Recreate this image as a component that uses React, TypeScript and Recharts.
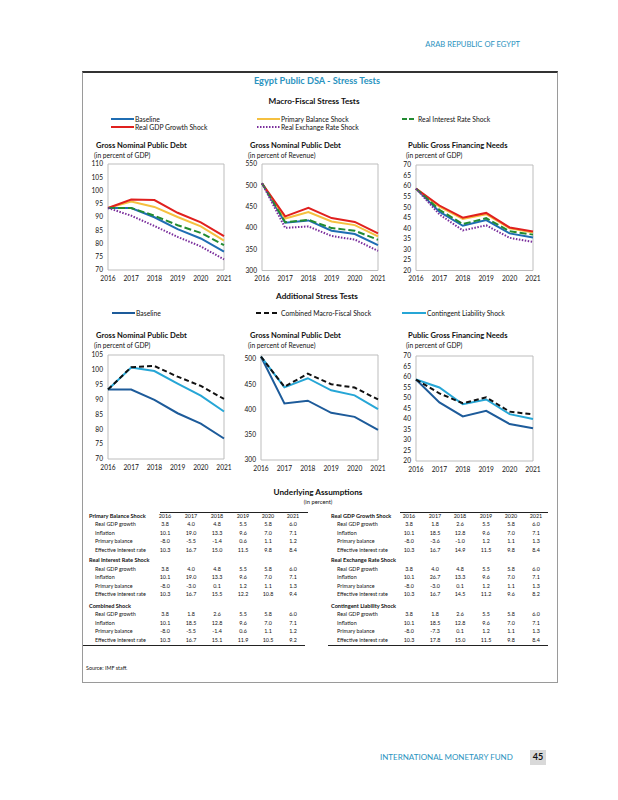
import React from "react";
import { LineChart, Line, XAxis, YAxis, ReferenceArea } from "recharts";

const FONT = "Lato, 'Noto Sans', sans-serif";
const TEAL = "#2a93c0";

// years shared by every panel and table
const years = [2016, 2017, 2018, 2019, 2020, 2021];

// Macro-fiscal stress tests: gross debt, % of GDP
const gdpBaseline = [93.4, 93.4, 89.9, 85.4, 81.9, 76.9];
const gdpPrimary = [93.4, 95.8, 93.8, 90.0, 86.5, 81.1];
const gdpGrowth = [93.4, 96.6, 96.4, 91.6, 88.0, 82.8];
const gdpInterest = [93.4, 93.4, 90.5, 86.9, 84.0, 79.4];
const gdpExchange = [93.4, 90.5, 86.6, 82.5, 78.9, 74.0];

// gross debt, % of revenue
const revBaseline = [504.6, 412.0, 417.5, 393.5, 385.5, 359.5];
const revPrimary = [504.6, 422.0, 437.0, 415.0, 406.5, 380.0];
const revGrowth = [504.6, 427.0, 447.0, 423.0, 414.0, 387.0];
const revInterest = [504.6, 413.5, 419.0, 399.5, 393.5, 372.0];
const revExchange = [504.6, 400.0, 403.5, 381.0, 372.5, 346.0];

// gross financing needs, % of GDP
const gfnBaseline = [58.8, 47.9, 41.2, 43.9, 37.6, 35.6];
const gfnPrimary = [58.8, 50.2, 44.4, 46.7, 40.0, 38.0];
const gfnGrowth = [58.8, 50.8, 45.0, 47.3, 40.4, 38.5];
const gfnInterest = [58.8, 48.8, 42.0, 44.8, 38.6, 37.0];
const gfnExchange = [58.8, 46.6, 39.0, 41.4, 35.5, 33.5];

// Additional stress tests
const gdpCombined = [93.4, 100.9, 101.3, 97.7, 94.6, 90.2];
const gdpContingent = [93.4, 100.8, 99.6, 95.4, 91.3, 86.0];
const revCombined = [504.6, 445.0, 471.0, 450.0, 443.5, 420.0];
const revContingent = [504.6, 444.0, 462.0, 438.0, 428.0, 401.0];
const gfnCombined = [58.8, 52.2, 47.5, 50.3, 43.5, 42.2];
const gfnContingent = [58.8, 55.0, 47.0, 49.3, 42.3, 40.0];

// axis ticks
const gdpTicks = [70, 75, 80, 85, 90, 95, 100, 105, 110];
const revTicks = [300, 350, 400, 450, 500, 550];
const gfnTicks = [20, 25, 30, 35, 40, 45, 50, 55, 60, 65, 70];
const gdpTicks2 = [70, 75, 80, 85, 90, 95, 100, 105];
const revTicks2 = [300, 350, 400, 450, 500];

// table: underlying assumptions
const rowLabels = ["Real GDP growth", "Inflation", "Primary balance", "Effective interest rate"];
const primaryRows = [
  ["3.8", "4.0", "4.8", "5.5", "5.8", "6.0"],
  ["10.1", "19.0", "13.3", "9.6", "7.0", "7.1"],
  ["-8.0", "-5.5", "-1.4", "0.6", "1.1", "1.2"],
  ["10.3", "16.7", "15.0", "11.5", "9.8", "8.4"],
];
const interestRows = [
  ["3.8", "4.0", "4.8", "5.5", "5.8", "6.0"],
  ["10.1", "19.0", "13.3", "9.6", "7.0", "7.1"],
  ["-8.0", "-3.0", "0.1", "1.2", "1.1", "1.3"],
  ["10.3", "16.7", "15.5", "12.2", "10.8", "9.4"],
];
const combinedRows = [
  ["3.8", "1.8", "2.6", "5.5", "5.8", "6.0"],
  ["10.1", "18.5", "12.8", "9.6", "7.0", "7.1"],
  ["-8.0", "-5.5", "-1.4", "0.6", "1.1", "1.2"],
  ["10.3", "16.7", "15.1", "11.9", "10.5", "9.2"],
];
const growthRows = [
  ["3.8", "1.8", "2.6", "5.5", "5.8", "6.0"],
  ["10.1", "18.5", "12.8", "9.6", "7.0", "7.1"],
  ["-8.0", "-3.6", "-1.0", "1.2", "1.1", "1.3"],
  ["10.3", "16.7", "14.9", "11.5", "9.8", "8.4"],
];
const exchangeRows = [
  ["3.8", "4.0", "4.8", "5.5", "5.8", "6.0"],
  ["10.1", "26.7", "13.3", "9.6", "7.0", "7.1"],
  ["-8.0", "-3.0", "0.1", "1.2", "1.1", "1.3"],
  ["10.3", "16.7", "14.5", "11.2", "9.6", "8.2"],
];
const contingentRows = [
  ["3.8", "1.8", "2.6", "5.5", "5.8", "6.0"],
  ["10.1", "18.5", "12.8", "9.6", "7.0", "7.1"],
  ["-8.0", "-7.3", "0.1", "1.2", "1.1", "1.3"],
  ["10.3", "17.8", "15.0", "11.5", "9.8", "8.4"],
];

const C = {
  baseline: "#1f6db3",
  baseline2: "#1d5b9a",
  primary: "#f5c040",
  growth: "#e0201e",
  interest: "#228b32",
  exchange: "#7a2e9c",
  combined: "#111111",
  contingent: "#26a6d6",
};

type S = { key: string; color: string; dash?: string };

const macroSeries: S[] = [
  { key: "baseline", color: C.baseline },
  { key: "primary", color: C.primary },
  { key: "growth", color: C.growth },
  { key: "interest", color: C.interest, dash: "7 3" },
  { key: "exchange", color: C.exchange, dash: "1.5 1.5" },
];
const addSeries: S[] = [
  { key: "baseline", color: C.baseline2 },
  { key: "contingent", color: C.contingent },
  { key: "combined", color: C.combined, dash: "5 3" },
];

const build = (cols: Record<string, number[]>) =>
  years.map((year, i) => {
    const row: Record<string, number> = { year };
    Object.keys(cols).forEach((k) => (row[k] = cols[k][i]));
    return row;
  });

const tickStyle = { fontSize: 6.6, fill: "#111", fontFamily: FONT };

function Panel({ data, series, box, domain, ticks }: any) {
  const yw = 30, xh = 18, mt = 8, mr = 8;
  const width = box.r - box.l + yw + mr;
  const height = box.b - box.t + mt + xh;
  return (
    <div style={{ position: "absolute", left: box.l - yw, top: box.t - mt }}>
      <LineChart width={width} height={height} data={data} margin={{ top: mt, right: mr, left: 0, bottom: 0 }}>
        <XAxis dataKey="year" type="number" domain={[2016, 2021]} ticks={years} interval={0}
          axisLine={false} tickLine={false} tickSize={0} tickMargin={6} height={xh} tick={tickStyle} />
        <YAxis type="number" domain={domain} ticks={ticks} interval={0} width={yw}
          axisLine={false} tickLine={false} tickSize={0} tickMargin={5} tick={tickStyle} />
        <ReferenceArea x1={2016} x2={2021} y1={domain[0]} y2={domain[1]} fill="none" stroke="#bdbdbd" strokeWidth={1} fillOpacity={0} />
        {series.map((s: S) => (
          <Line key={s.key} dataKey={s.key} type="linear" stroke={s.color} strokeWidth={2}
            strokeDasharray={s.dash} dot={false} isAnimationActive={false} />
        ))}
      </LineChart>
    </div>
  );
}

function T({ x, y, fs, bold, color, anchor, children }: any) {
  const tr = anchor === "middle" ? "translateX(-50%)" : anchor === "end" ? "translateX(-100%)" : undefined;
  return (
    <div style={{ position: "absolute", left: x, top: y - fs * 0.6, fontSize: fs, lineHeight: `${fs * 1.2}px`,
      fontWeight: bold ? 700 : 400, color: color || "#111", whiteSpace: "nowrap", transform: tr, fontFamily: FONT }}>
      {children}
    </div>
  );
}

function Key({ x, y, w, color, dash, label }: any) {
  return (
    <>
      <svg style={{ position: "absolute", left: x, top: y - 3 }} width={w} height={6}>
        <line x1={0} x2={w} y1={3} y2={3} stroke={color} strokeWidth={2} strokeDasharray={dash} />
      </svg>
      {label ? <T x={x + w + 1} y={y} fs={6.8}>{label}</T> : null}
    </>
  );
}

function PanelTitles({ x, y, title, sub }: any) {
  return (
    <>
      <T x={x} y={y} fs={7.6} bold>{title}</T>
      <T x={x - 2} y={y + 8.8} fs={6.7}>{sub}</T>
    </>
  );
}

function Table({ sections, titleX, labelX, cols, lineTop, lineBottom }: any) {
  const heads = [516, 560.7, 606];
  return (
    <>
      <div style={{ position: "absolute", left: lineTop[0], top: 511.5, width: lineTop[1] - lineTop[0], borderTop: "1px solid #222" }} />
      {cols.map((c: number, i: number) => (
        <T key={"h" + i} x={c} y={516} fs={5.4} anchor="middle">{years[i]}</T>
      ))}
      {sections.map((sec: any, si: number) => (
        <React.Fragment key={si}>
          <T x={titleX} y={heads[si]} fs={5.6} bold>{sec.title}</T>
          {sec.rows.map((r: string[], ri: number) => (
            <React.Fragment key={ri}>
              <T x={labelX} y={heads[si] + 8.5 * (ri + 1)} fs={5.4}>{rowLabels[ri]}</T>
              {r.map((v, ci) => (
                <T key={ci} x={cols[ci]} y={heads[si] + 8.5 * (ri + 1)} fs={5.4} anchor="middle">{v}</T>
              ))}
            </React.Fragment>
          ))}
        </React.Fragment>
      ))}
      <div style={{ position: "absolute", left: lineBottom[0], top: 645, width: lineBottom[1] - lineBottom[0], borderTop: "1.5px solid #222" }} />
    </>
  );
}

export default function App() {
  const d1 = build({ baseline: gdpBaseline, primary: gdpPrimary, growth: gdpGrowth, interest: gdpInterest, exchange: gdpExchange });
  const d2 = build({ baseline: revBaseline, primary: revPrimary, growth: revGrowth, interest: revInterest, exchange: revExchange });
  const d3 = build({ baseline: gfnBaseline, primary: gfnPrimary, growth: gfnGrowth, interest: gfnInterest, exchange: gfnExchange });
  const d4 = build({ baseline: gdpBaseline, combined: gdpCombined, contingent: gdpContingent });
  const d5 = build({ baseline: revBaseline, combined: revCombined, contingent: revContingent });
  const d6 = build({ baseline: gfnBaseline, combined: gfnCombined, contingent: gfnContingent });

  return (
    <div style={{ position: "absolute", left: 0, top: 0, width: 618, height: 800, background: "#fff", fontFamily: FONT, overflow: "hidden" }}>
      <T x={520} y={45} fs={7.6} color={TEAL} anchor="end">ARAB REPUBLIC OF EGYPT</T>

      {/* frame */}
      <div style={{ position: "absolute", left: 82, top: 71, width: 474, height: 609, border: "1px solid #9a9a9a", borderTop: "2px solid #333" }} />

      <T x={317} y={81} fs={9.2} bold color={TEAL} anchor="middle">Egypt Public DSA - Stress Tests</T>
      <T x={314} y={101.5} fs={8.2} bold anchor="middle">Macro-Fiscal Stress Tests</T>

      <Key x={111} y={119} w={23} color={C.baseline} label="Baseline" />
      <Key x={111} y={127} w={23} color={C.growth} label="Real GDP Growth Shock" />
      <Key x={257} y={119} w={23} color={C.primary} label="Primary Balance Shock" />
      <Key x={257} y={127} w={23} color={C.exchange} dash="1.5 1.5" label="Real Exchange Rate Shock" />
      <Key x={402} y={119} w={12} color={C.interest} dash="5 2" />
      <T x={418} y={119} fs={6.8}>Real Interest Rate Shock</T>

      <PanelTitles x={96} y={146} title="Gross Nominal Public Debt" sub="(in percent of GDP)" />
      <PanelTitles x={250} y={146} title="Gross Nominal Public Debt" sub="(in percent of Revenue)" />
      <PanelTitles x={408} y={146} title="Public Gross Financing Needs" sub="(in percent of GDP)" />

      <Panel data={d1} series={macroSeries} box={{ l: 108, r: 224, t: 164, b: 270 }} domain={[70, 110]} ticks={gdpTicks} />
      <Panel data={d2} series={macroSeries} box={{ l: 262, r: 378, t: 164, b: 270.5 }} domain={[300, 550]} ticks={revTicks} />
      <Panel data={d3} series={macroSeries} box={{ l: 416, r: 533, t: 165, b: 270.5 }} domain={[20, 70]} ticks={gfnTicks} />

      <T x={317} y={297} fs={8.2} bold anchor="middle">Additional Stress Tests</T>
      <Key x={112} y={313} w={23} color={C.baseline2} label="Baseline" />
      <Key x={256} y={313} w={24} color={C.combined} dash="5 3" label="Combined Macro-Fiscal Shock" />
      <Key x={402} y={313} w={24} color={C.contingent} label="Contingent Liability Shock" />

      <PanelTitles x={96} y={336} title="Gross Nominal Public Debt" sub="(in percent of GDP)" />
      <PanelTitles x={250} y={336} title="Gross Nominal Public Debt" sub="(in percent of Revenue)" />
      <PanelTitles x={408} y={336} title="Public Gross Financing Needs" sub="(in percent of GDP)" />

      <Panel data={d4} series={addSeries} box={{ l: 108, r: 224, t: 355, b: 459 }} domain={[70, 105]} ticks={gdpTicks2} />
      <Panel data={d5} series={addSeries} box={{ l: 261, r: 378, t: 355, b: 460 }} domain={[300, 508]} ticks={revTicks2} />
      <Panel data={d6} series={addSeries} box={{ l: 416, r: 533, t: 355.5, b: 460.5 }} domain={[20, 70]} ticks={gfnTicks} />

      <T x={318} y={493} fs={8.2} bold anchor="middle">Underlying Assumptions</T>
      <T x={318} y={502} fs={5.8} anchor="middle">(in percent)</T>

      <Table
        sections={[
          { title: "Primary Balance Shock", rows: primaryRows },
          { title: "Real Interest Rate Shock", rows: interestRows },
          { title: "Combined Shock", rows: combinedRows },
        ]}
        titleX={89} labelX={95} cols={[165, 191, 217, 243, 268, 293]} lineTop={[160, 308]} lineBottom={[83, 305]}
      />
      <Table
        sections={[
          { title: "Real GDP Growth Shock", rows: growthRows },
          { title: "Real Exchange Rate Shock", rows: exchangeRows },
          { title: "Contingent Liability Shock", rows: contingentRows },
        ]}
        titleX={331} labelX={337} cols={[409, 435, 460, 486, 511, 536]} lineTop={[400, 548]} lineBottom={[328, 548]}
      />

      <T x={86} y={668} fs={5.4}>Source: IMF staff.</T>

      <T x={380} y={758} fs={8} color={TEAL}>INTERNATIONAL MONETARY FUND</T>
      <div style={{ position: "absolute", left: 530, top: 750, width: 16, height: 15, background: "#d9d9d9" }} />
      <T x={538} y={757.5} fs={9} bold anchor="middle">45</T>
    </div>
  );
}
